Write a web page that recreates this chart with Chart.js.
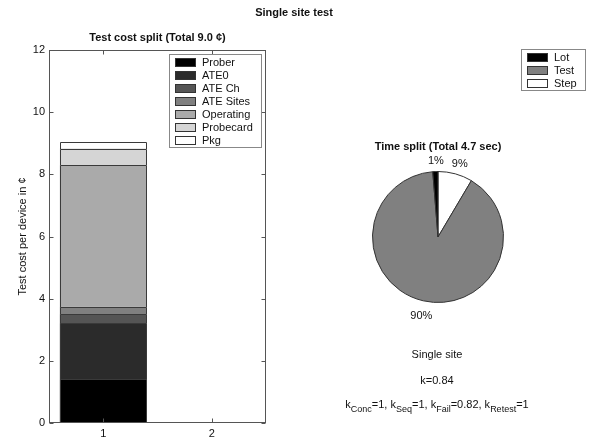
<!DOCTYPE html>
<html>
<head>
<meta charset="utf-8">
<script src="https://cdn.jsdelivr.net/npm/chart.js@4.4.0/dist/chart.umd.min.js"></script>
<style>
  html, body { margin: 0; padding: 0; background: #fff; }
  #wrap { position: relative; width: 589px; height: 443px; overflow: hidden;
          font-family: "Liberation Sans", Arial, sans-serif; color: #111; }
  canvas { position: absolute; top: 0; }
  #costCanvas { left: 0; }
  #timeCanvas { left: 300px; }
  .txt { position: absolute; white-space: nowrap; transform: translate(-50%, -50%); font-size: 11px; }
  .txt sub { font-size: 9px; vertical-align: -4px; line-height: 0; }
</style>
</head>
<body>
<div id="wrap">
  <canvas id="costCanvas" width="300" height="443"></canvas>
  <canvas id="timeCanvas" width="289" height="443"></canvas>
  <div class="txt" style="left:294px; top:12px; font-weight:bold;">Single site test</div>
  <div class="txt" style="left:437px; top:354px;">Single site</div>
  <div class="txt" style="left:437px; top:380px;">k=0.84</div>
  <div class="txt" style="left:437px; top:404px;">k<sub>Conc</sub>=1, k<sub>Seq</sub>=1, k<sub>Fail</sub>=0.82, k<sub>Retest</sub>=1</div>
</div>
<script>
// ---- cost per device (cents), one array per cost component ----
const costCategories = ['1', '2'];
const costSeriesNames = ['Prober', 'ATE0', 'ATE Ch', 'ATE Sites', 'Operating', 'Probecard', 'Pkg'];
const proberCost    = [1.40, 0];
const ate0Cost      = [1.81, 0];
const ateChCost     = [0.29, 0];
const ateSitesCost  = [0.24, 0];
const operatingCost = [4.55, 0];
const probecardCost = [0.54, 0];
const pkgCost       = [0.21, 0];
const costTicks = [0, 2, 4, 6, 8, 10, 12];

// ---- test time split (seconds) ----
const timeLabels = ['Lot', 'Test', 'Step'];
const timeValues = [0.06, 4.24, 0.40];

const costColors = ['#000000', '#2b2b2b', '#555555', '#808080', '#aaaaaa', '#d5d5d5', '#ffffff'];
const timeColors = ['#000000', '#808080', '#ffffff'];
const FONT = '"Liberation Sans", Arial, sans-serif';

const costSeries = [proberCost, ate0Cost, ateChCost, ateSitesCost, operatingCost, probecardCost, pkgCost];
const costTotal = costSeries.reduce((s, arr) => s + arr[0], 0);
const timeTotal = timeValues.reduce((s, v) => s + v, 0);

function drawLegend(ctx, names, colors, right, top, pitch) {
  ctx.font = '11px ' + FONT;
  const maxW = Math.max(...names.map(n => ctx.measureText(n).width));
  const w = Math.round(6 + 21 + 6 + maxW + 9);
  const h = Math.round(names.length * pitch + 3);
  const left = Math.round(right - w);
  ctx.fillStyle = '#fff';
  ctx.fillRect(left, top, w, h);
  ctx.strokeStyle = '#888';
  ctx.lineWidth = 1;
  ctx.strokeRect(left + 0.5, top + 0.5, w - 1, h - 1);
  names.forEach((n, i) => {
    const cy = top + 8.5 + i * pitch;
    ctx.fillStyle = colors[i];
    ctx.fillRect(left + 6, Math.round(cy - 4.5), 21, 9);
    ctx.strokeStyle = '#333';
    ctx.strokeRect(left + 6.5, Math.round(cy - 4.5) + 0.5, 20, 8);
    ctx.fillStyle = '#111';
    ctx.textAlign = 'left';
    ctx.textBaseline = 'middle';
    ctx.fillText(n, left + 33, cy + 0.5);
  });
}

// single dark edge on top and sides of every stacked segment
const segmentEdges = {
  id: 'segmentEdges',
  afterDatasetsDraw(chart) {
    const { ctx } = chart;
    ctx.save();
    ctx.strokeStyle = '#3a3a3a';
    ctx.lineWidth = 1;
    ctx.beginPath();
    chart.data.datasets.forEach((ds, di) => {
      chart.getDatasetMeta(di).data.forEach((bar, k) => {
        if (!ds.data[k]) return;
        const { x, y, base, width } = bar.getProps(['x', 'y', 'base', 'width'], true);
        const l = Math.round(x - width / 2) + 0.5, r = Math.round(x + width / 2) - 0.5;
        const t = Math.round(y) + 0.5, b = Math.round(base);
        ctx.moveTo(l, b); ctx.lineTo(l, t); ctx.lineTo(r, t); ctx.lineTo(r, b);
      });
    });
    ctx.stroke();
    ctx.restore();
  }
};

// frame, inward tick marks, titles and legend for the cost axes
const costFrame = {
  id: 'costFrame',
  afterDraw(chart) {
    const { ctx, chartArea: a, scales: { x, y } } = chart;
    ctx.save();
    ctx.strokeStyle = '#555';
    ctx.lineWidth = 1;
    const L = Math.round(a.left) + 0.5, R = Math.round(a.right) - 0.5;
    const T = Math.round(a.top) + 0.5, B = Math.round(a.bottom) - 0.5;
    ctx.strokeRect(L, T, R - L, B - T);
    ctx.beginPath();
    y.ticks.forEach(t => {
      const py = Math.round(y.getPixelForValue(t.value)) + 0.5;
      ctx.moveTo(L, py); ctx.lineTo(L + 4, py);
      ctx.moveTo(R, py); ctx.lineTo(R - 4, py);
    });
    x.ticks.forEach((t, i) => {
      const px = Math.round(x.getPixelForTick(i)) + 0.5;
      ctx.moveTo(px, B); ctx.lineTo(px, B - 4);
      ctx.moveTo(px, T); ctx.lineTo(px, T + 4);
    });
    ctx.stroke();

    ctx.fillStyle = '#111';
    ctx.textAlign = 'center';
    ctx.textBaseline = 'middle';
    ctx.font = 'bold 11px ' + FONT;
    ctx.fillText('Test cost split (Total ' + costTotal.toFixed(1) + ' \u00a2)', (a.left + a.right) / 2, 38);

    ctx.font = '11px ' + FONT;
    ctx.translate(23, (a.top + a.bottom) / 2);
    ctx.rotate(-Math.PI / 2);
    ctx.fillText('Test cost per device in \u00a2', 0, 0);
    ctx.setTransform(1, 0, 0, 1, 0, 0);

    drawLegend(ctx, costSeriesNames, costColors, a.right - 4, a.top + 4, 13.07);
    ctx.restore();
  }
};

new Chart(document.getElementById('costCanvas'), {
  type: 'bar',
  data: {
    labels: costCategories,
    datasets: costSeries.map((vals, i) => ({
      label: costSeriesNames[i],
      data: vals,
      backgroundColor: costColors[i],
      borderWidth: 0,
      barPercentage: 0.8,
      categoryPercentage: 1.0
    }))
  },
  options: {
    responsive: false,
    animation: false,
    events: [],
    layout: { padding: { left: 0, top: 50, right: 34, bottom: 0 } },
    plugins: { legend: { display: false }, title: { display: false }, tooltip: { enabled: false } },
    scales: {
      x: {
        stacked: true,
        offset: true,
        grid: { display: false, drawTicks: false },
        border: { display: false },
        ticks: { color: '#111', font: { family: FONT, size: 11 }, padding: 4 },
        afterFit(s) { s.height = 20; }
      },
      y: {
        stacked: true,
        min: costTicks[0],
        max: costTicks[costTicks.length - 1],
        grid: { display: false, drawTicks: false },
        border: { display: false },
        afterBuildTicks(s) { s.ticks = costTicks.map(v => ({ value: v })); },
        ticks: { color: '#111', font: { family: FONT, size: 11 }, padding: 4 },
        afterFit(s) { s.width = 49; }
      }
    }
  },
  plugins: [segmentEdges, costFrame]
});

// pie: clockwise from the top, so the series order is reversed to keep
// Lot just left of twelve o'clock and Step just right of it
const pieOrder = [2, 1, 0];
const timeDecor = {
  id: 'timeDecor',
  afterDraw(chart) {
    const { ctx, chartArea: a } = chart;
    ctx.save();
    ctx.fillStyle = '#111';
    ctx.textAlign = 'center';
    ctx.textBaseline = 'middle';
    ctx.font = 'bold 11px ' + FONT;
    ctx.fillText('Time split (Total ' + timeTotal.toFixed(1) + ' sec)', (a.left + a.right) / 2, 147);

    ctx.font = '11px ' + FONT;
    const meta = chart.getDatasetMeta(0);
    meta.data.forEach((arc, j) => {
      const idx = pieOrder[j];
      const mid = (arc.startAngle + arc.endAngle) / 2;
      const r = arc.outerRadius * 1.2;
      const pct = Math.round(timeValues[idx] / timeTotal * 100) + '%';
      ctx.fillText(pct, arc.x + Math.cos(mid) * r + 1, arc.y + Math.sin(mid) * r + 2.5);
    });

    drawLegend(ctx, timeLabels, timeColors, chart.width - 3, 49, 13);
    ctx.restore();
  }
};

new Chart(document.getElementById('timeCanvas'), {
  type: 'pie',
  data: {
    labels: pieOrder.map(i => timeLabels[i]),
    datasets: [{
      data: pieOrder.map(i => timeValues[i]),
      backgroundColor: pieOrder.map(i => timeColors[i]),
      borderColor: '#333',
      borderWidth: 1,
      hoverOffset: 0
    }]
  },
  options: {
    responsive: false,
    animation: false,
    events: [],
    layout: { padding: { left: 72, right: 85, top: 171, bottom: 140 } },
    plugins: { legend: { display: false }, title: { display: false }, tooltip: { enabled: false } }
  },
  plugins: [timeDecor]
});
</script>
</body>
</html>
